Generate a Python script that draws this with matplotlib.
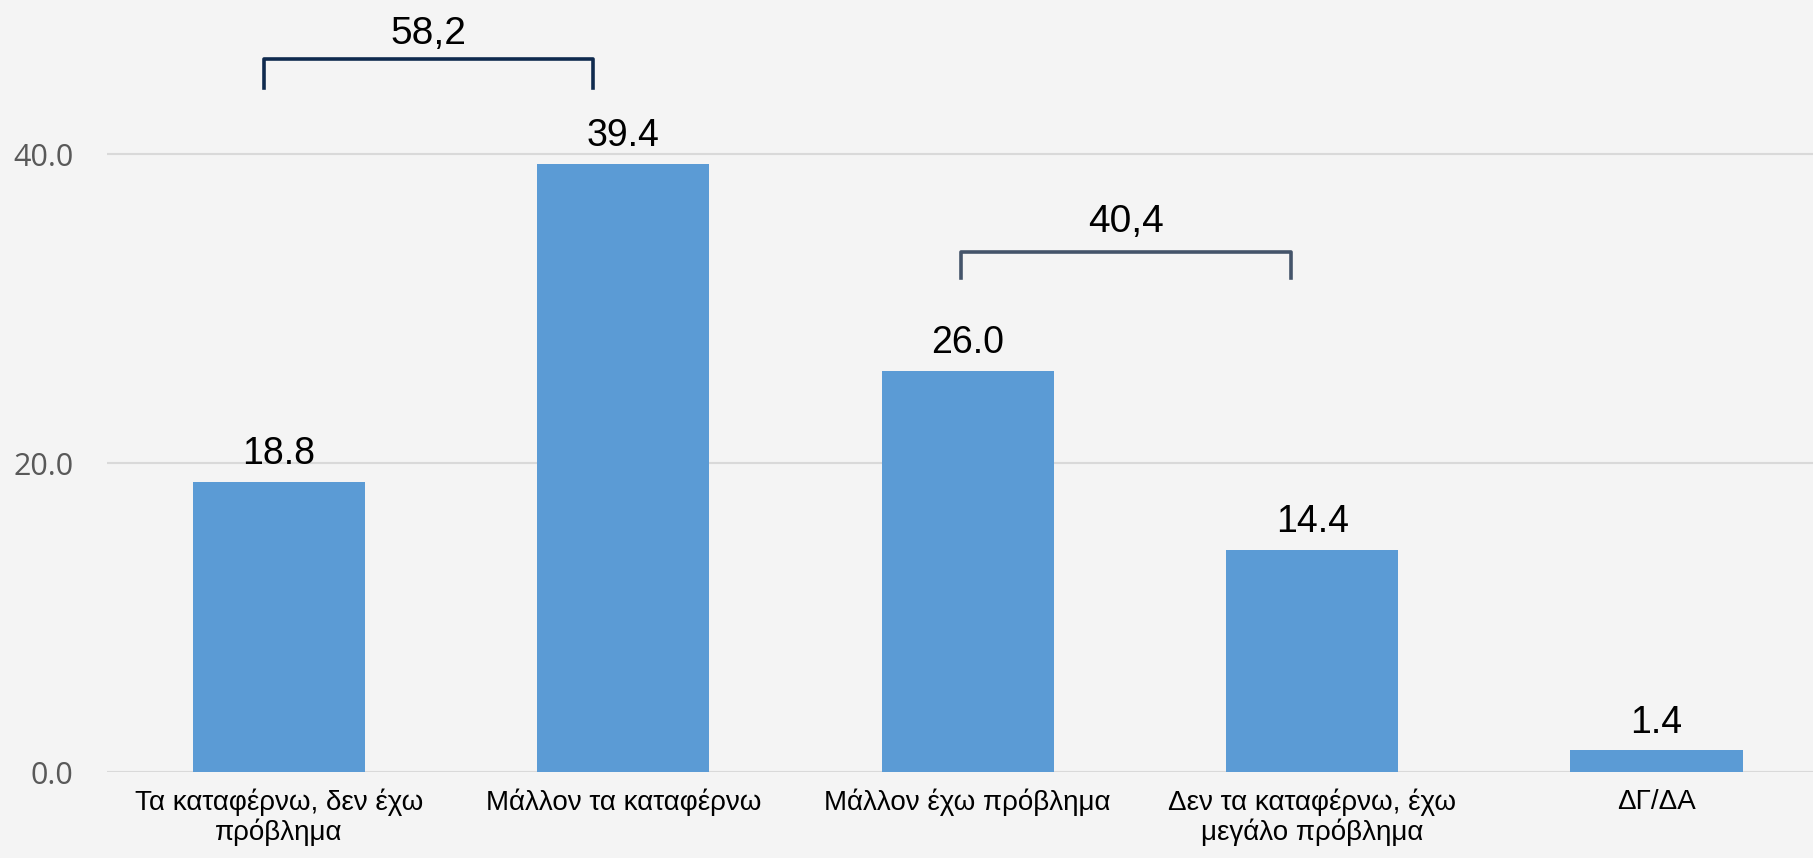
import matplotlib.pyplot as plt

categories = [
    "Τα καταφέρνω, δεν έχω\nπρόβλημα",
    "Μάλλον τα καταφέρνω",
    "Μάλλον έχω πρόβλημα",
    "Δεν τα καταφέρνω, έχω\nμεγάλο πρόβλημα",
    "ΔΓ/ΔΑ",
]
values = [18.8, 39.4, 26.0, 14.4, 1.4]
value_labels = ["18.8", "39.4", "26.0", "14.4", "1.4"]
yticks = [0, 20, 40]

# summed groups shown with brackets over the bars
group_labels = ["58,2", "40,4"]
group_spans = [(-0.044, 0.912), (1.98, 2.94)]
group_levels = [(44.3, 46.2, 47.8), (32.0, 33.7, 35.6)]
group_colors = ["#0f2a4e", "#44546a"]

BG = "#f4f4f4"
BAR = "#5b9bd5"

fig = plt.figure(figsize=(18.13, 8.58), dpi=100, facecolor=BG)
ax = fig.add_axes([106.5 / 1813, 86 / 858, 1 - 106.5 / 1813, 772 / 858])
ax.set_facecolor(BG)

x = list(range(len(categories)))
ax.bar(x, values, width=0.5, color=BAR, zorder=3)
for xi, v, lab in zip(x, values, value_labels):
    ax.annotate(lab, (xi, v), xytext=(0, 20), textcoords="offset points",
                ha="center", va="center", fontsize=27, family="Liberation Sans",
                color="black")

for (x0, x1), (yb, yt, ylab), lab, col in zip(group_spans, group_levels, group_labels, group_colors):
    ax.plot([x0, x0, x1, x1], [yb, yt, yt, yb], color=col, lw=2.6,
            solid_joinstyle="round", clip_on=False, zorder=4)
    ax.text((x0 + x1) / 2, ylab, lab, ha="center", va="center", fontsize=28,
            family="Liberation Sans", color="black")

ax.set_xlim(-0.5, 4.454)
ax.set_ylim(0, 50)
ax.set_yticks(yticks)
ax.set_yticklabels([f"{t:.1f}" for t in yticks])
ax.set_xticks(x)
ax.set_xticklabels(categories)
ax.grid(axis="y", color="#d9d9d9", lw=1.5, zorder=0)
ax.tick_params(axis="both", length=0)
ax.tick_params(axis="y", pad=24, labelsize=22, labelcolor="#595959")
ax.tick_params(axis="x", pad=12, labelsize=20)
for t in ax.get_yticklabels():
    t.set_family("Open Sans")
for t in ax.get_xticklabels():
    t.set_family("Liberation Sans")
    t.set_linespacing(1.12)
for s in ax.spines.values():
    s.set_visible(False)

fig.savefig("out.png", dpi=100, facecolor=BG)
